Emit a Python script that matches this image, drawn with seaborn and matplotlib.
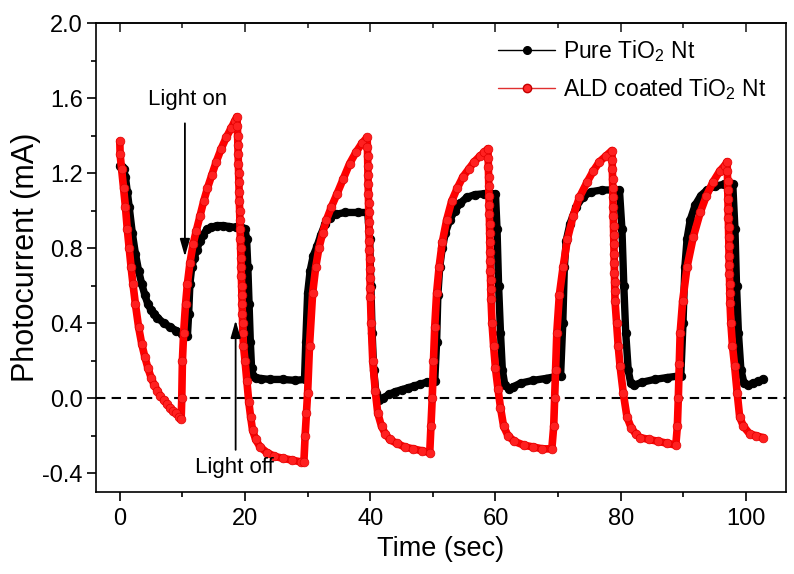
import matplotlib
matplotlib.use("Agg")
import matplotlib.pyplot as plt
import seaborn as sns
import pandas as pd
from matplotlib.lines import Line2D
from matplotlib.ticker import MultipleLocator, FormatStrFormatter

# ---------------- data ----------------
black_t = [0.0, 0.3, 0.6, 0.9, 1.2, 1.5, 2.0, 2.5, 3.0, 3.5, 4.0, 4.5, 5.0, 5.5, 6.0, 7.0, 8.0, 9.0, 10.0, 10.8,
           11.0, 11.2, 11.5, 11.9, 12.3, 12.8, 13.3, 13.9, 14.6, 15.5, 16.5, 17.5, 18.5, 19.5, 20.0,
           20.25, 20.45, 20.65, 20.85, 21.05, 21.3, 21.7, 22.5, 24.0, 26.0, 28.0, 29.5,
           29.7, 30.0, 30.4, 30.9, 31.5, 32.1, 32.8, 33.5, 34.5, 36.0, 38.0, 39.6,
           39.9, 40.1, 40.3, 40.55, 40.9, 41.4, 42.0, 43.0, 44.0, 45.0, 46.0, 47.0, 48.0, 49.0, 50.3,
           50.6, 50.8, 51.1, 51.5, 52.0, 52.7, 53.5, 54.4, 55.4, 56.7, 58.2, 60.0,
           60.25, 60.5, 60.8, 61.1, 61.5, 62.1, 62.8, 64.0, 66.0, 68.0, 70.4,
           70.75, 71.0, 71.3, 71.9, 72.9, 73.9, 75.2, 77.0, 79.8,
           80.2, 80.5, 80.8, 81.2, 81.6, 82.2, 83.4, 85.4, 87.4, 89.6,
           89.95, 90.25, 90.6, 91.1, 91.9, 92.8, 93.8, 95.0, 96.5, 97.9,
           98.25, 98.5, 98.8, 99.2, 99.7, 100.3, 101.2, 102.0, 102.7]
black_v = [1.24, 1.23, 1.22, 1.18, 1.10, 1.02, 0.88, 0.77, 0.68, 0.61, 0.55, 0.50, 0.47, 0.45, 0.43, 0.40, 0.38, 0.36, 0.34, 0.33,
           0.45, 0.61, 0.70, 0.75, 0.79, 0.84, 0.87, 0.90, 0.91, 0.92, 0.92, 0.915, 0.91, 0.905, 0.90,
           0.85, 0.70, 0.50, 0.30, 0.16, 0.12, 0.11, 0.105, 0.10, 0.10, 0.095, 0.10,
           0.30, 0.56, 0.68, 0.76, 0.81, 0.87, 0.93, 0.96, 0.98, 0.99, 0.99, 0.99,
           0.85, 0.60, 0.35, 0.15, 0.03, -0.01, 0.0, 0.02, 0.035, 0.045, 0.055, 0.065, 0.075, 0.085, 0.09,
           0.30, 0.55, 0.70, 0.80, 0.88, 0.95, 1.00, 1.04, 1.07, 1.085, 1.09, 1.09,
           0.90, 0.60, 0.35, 0.15, 0.07, 0.05, 0.06, 0.08, 0.095, 0.105, 0.12,
           0.40, 0.70, 0.84, 0.93, 1.02, 1.07, 1.10, 1.11, 1.11,
           0.90, 0.60, 0.35, 0.15, 0.08, 0.07, 0.085, 0.10, 0.11, 0.12,
           0.40, 0.70, 0.85, 0.95, 1.03, 1.08, 1.11, 1.13, 1.14, 1.14,
           0.90, 0.60, 0.35, 0.15, 0.08, 0.07, 0.08, 0.09, 0.10]

red_t = [0.0, 0.05, 0.3, 0.6, 0.9, 1.2, 1.5, 1.8, 2.1, 2.5, 3.0, 3.5, 4.0, 4.5, 5.0, 5.5, 6.0, 6.5, 7.0, 7.5, 8.0, 8.5, 9.0, 9.5, 9.8,
         9.9, 10.0, 10.2, 10.5, 10.8, 11.2, 11.7, 12.2, 12.8, 13.4, 14.0, 14.7, 15.4, 16.2, 17.0, 17.8, 18.4, 18.7,
         18.78, 18.82, 18.86, 18.90, 18.94, 18.98, 19.02, 19.06, 19.10, 19.14, 19.18, 19.22, 19.26, 19.30, 19.34, 19.38,
         19.42, 19.46, 19.50, 19.54, 19.58, 19.62, 19.66,
         19.75, 20.0, 20.3, 20.6, 20.9, 21.2, 21.7, 22.4, 23.5, 24.7, 26.0, 27.5, 29.0, 29.4,
         29.6, 29.8, 30.0, 30.3, 30.8, 31.3, 31.8, 32.4, 33.0, 33.8, 34.7, 35.7, 36.7, 37.7, 38.7, 39.5,
         39.55, 39.58, 39.61, 39.64, 39.67, 39.70, 39.73, 39.76, 39.79, 39.82, 39.85, 39.88, 39.91, 39.94, 39.97, 40.0, 40.03,
         40.15, 40.4, 40.8, 41.2, 41.8, 42.4, 43.1, 44.2, 45.5, 46.8, 48.2, 49.5,
         49.7, 49.9, 50.1, 50.3, 50.6, 51.0, 51.5, 52.2, 53.0, 53.9, 54.8, 55.7, 56.6, 57.5, 58.2, 58.8,
         58.84, 58.87, 58.90, 58.93, 58.96, 58.99, 59.02, 59.05, 59.08, 59.11, 59.14, 59.17, 59.20, 59.23, 59.26, 59.29,
         59.45, 59.7, 60.0, 60.4, 60.8, 61.3, 62.0, 63.0, 64.5, 66.0, 67.5, 69.0,
         69.3, 69.45, 69.6, 69.8, 70.2, 70.8, 71.5, 72.4, 73.4, 74.6, 75.6, 76.6, 77.6, 78.6,
         78.64, 78.67, 78.70, 78.73, 78.76, 78.79, 78.82, 78.85, 78.88, 78.91, 78.94, 78.97, 79.00, 79.03, 79.06, 79.09,
         79.35, 79.6, 79.9, 80.4, 81.0, 81.7, 82.4, 83.1, 84.5, 86.0, 87.4, 88.8,
         89.05, 89.2, 89.35, 89.5, 89.9, 90.6, 91.6, 92.7, 93.7, 94.7, 95.8, 96.6, 97.0,
         97.04, 97.07, 97.10, 97.13, 97.16, 97.19, 97.22, 97.25, 97.28, 97.31, 97.34, 97.37, 97.40, 97.43, 97.46,
         97.6, 97.85, 98.2, 98.6, 99.0, 99.6, 100.6, 101.6, 102.7]
red_v = [1.37, 1.30, 1.22, 1.12, 1.02, 0.90, 0.80, 0.70, 0.61, 0.50, 0.38, 0.29, 0.22, 0.16, 0.11, 0.07, 0.04, 0.01, -0.01, -0.03, -0.05, -0.07, -0.08, -0.10, -0.11,
         0.0, 0.2, 0.35, 0.50, 0.61, 0.72, 0.82, 0.89, 0.97, 1.05, 1.12, 1.19, 1.26, 1.33, 1.39, 1.44, 1.48, 1.50,
         1.45, 1.40, 1.35, 1.30, 1.25, 1.20, 1.15, 1.10, 1.05, 1.00, 0.95, 0.90, 0.85, 0.80, 0.75, 0.70,
         0.65, 0.60, 0.55, 0.50, 0.45, 0.40, 0.35,
         0.28, 0.20, 0.09, -0.02, -0.10, -0.17, -0.22, -0.26, -0.29, -0.31, -0.32, -0.33, -0.34, -0.34,
         -0.20, -0.08, 0.03, 0.28, 0.56, 0.70, 0.80, 0.88, 0.95, 1.02, 1.09, 1.17, 1.25, 1.31, 1.36, 1.39,
         1.34, 1.29, 1.24, 1.19, 1.14, 1.09, 1.04, 0.99, 0.94, 0.89, 0.84, 0.79, 0.74, 0.69, 0.64, 0.59, 0.54,
         0.40, 0.20, 0.04, -0.08, -0.15, -0.19, -0.22, -0.24, -0.26, -0.27, -0.28, -0.29,
         -0.15, 0.0, 0.20, 0.38, 0.56, 0.70, 0.83, 0.95, 1.05, 1.12, 1.18, 1.22, 1.26, 1.29, 1.31, 1.33,
         1.28, 1.23, 1.18, 1.13, 1.08, 1.03, 0.98, 0.93, 0.88, 0.83, 0.78, 0.73, 0.68, 0.63, 0.58, 0.53,
         0.40, 0.28, 0.16, 0.05, -0.05, -0.15, -0.20, -0.23, -0.25, -0.26, -0.27, -0.27,
         -0.15, 0.0, 0.15, 0.35, 0.55, 0.70, 0.85, 0.97, 1.07, 1.15, 1.21, 1.26, 1.29, 1.32,
         1.27, 1.22, 1.17, 1.12, 1.07, 1.02, 0.97, 0.92, 0.87, 0.82, 0.77, 0.72, 0.67, 0.62, 0.57, 0.52,
         0.40, 0.28, 0.17, 0.03, -0.10, -0.16, -0.19, -0.21, -0.22, -0.23, -0.24, -0.25,
         -0.15, 0.0, 0.18, 0.35, 0.52, 0.70, 0.86, 0.99, 1.08, 1.15, 1.21, 1.24, 1.26,
         1.21, 1.16, 1.11, 1.06, 1.01, 0.96, 0.91, 0.86, 0.81, 0.76, 0.71, 0.66, 0.61, 0.56, 0.51,
         0.40, 0.28, 0.17, 0.03, -0.10, -0.15, -0.19, -0.20, -0.21]

series_labels = ["Pure TiO$_2$ Nt", "ALD coated TiO$_2$ Nt"]
x_ticks = [0, 20, 40, 60, 80, 100]
y_ticks = [-0.4, 0.0, 0.4, 0.8, 1.2, 1.6, 2.0]

# ---------------- style ----------------
sns.set_style("ticks")
plt.rcParams["font.family"] = ["Liberation Sans", "DejaVu Sans"]
plt.rcParams["mathtext.default"] = "regular"
plt.rcParams["axes.unicode_minus"] = False
plt.rcParams["text.color"] = "black"
plt.rcParams["axes.labelcolor"] = "black"

fig = plt.figure(figsize=(7.94, 5.74), dpi=100)
ax = fig.add_axes([96 / 794, 82 / 574, 690 / 794, 469 / 574])

df_black = pd.DataFrame({"t": black_t, "v": black_v})
df_red = pd.DataFrame({"t": red_t, "v": red_v})

ax.axhline(0, color="black", lw=1.5, ls=(0, (4.5, 3)), zorder=1)

sns.lineplot(data=df_black, x="t", y="v", ax=ax, sort=False, estimator=None,
             color="black", linewidth=5.3, marker="o", markersize=6.0,
             markerfacecolor="black", markeredgecolor="black", zorder=2)
sns.lineplot(data=df_red, x="t", y="v", ax=ax, sort=False, estimator=None,
             color="#ff0000", linewidth=5.5, marker="o", markersize=6.3,
             markerfacecolor="#ff2020", markeredgecolor="#e00000", markeredgewidth=0.5,
             zorder=3)

# axes
ax.set_xlim(-3.8, 106.4)
ax.set_ylim(-0.5, 2.0)
ax.set_xticks(x_ticks)
ax.set_yticks(y_ticks)
ax.xaxis.set_minor_locator(MultipleLocator(10))
ax.yaxis.set_minor_locator(MultipleLocator(0.2))
ax.yaxis.set_major_formatter(FormatStrFormatter("%.1f"))
ax.tick_params(axis="both", which="major", direction="out", length=6.5, width=1.2,
               labelsize=17, color="black", labelcolor="black")
ax.tick_params(axis="both", which="minor", direction="out", length=3.5, width=1.2, color="black")
ax.tick_params(axis="x", which="major", pad=5)
ax.tick_params(axis="y", which="major", pad=3)
for s in ax.spines.values():
    s.set_visible(True)
    s.set_linewidth(1.2)
    s.set_color("black")

top = ax.secondary_xaxis("top")
top.set_xticks(x_ticks)
top.xaxis.set_minor_locator(MultipleLocator(10))
top.tick_params(axis="x", which="major", direction="in", length=6.5, width=1.2, labeltop=False)
top.tick_params(axis="x", which="minor", direction="in", length=3.5, width=1.2)
top.spines["top"].set_linewidth(1.2)

ax.set_xlabel("Time (sec)", fontsize=19.5, labelpad=4)
ax.set_ylabel("Photocurrent (mA)", fontsize=22, labelpad=1)

# annotations
ax.annotate("", xy=(10.4, 0.74), xytext=(10.4, 1.48),
            arrowprops=dict(arrowstyle="-|>,head_length=0.7,head_width=0.2",
                            color="black", lw=1.3, mutation_scale=15), zorder=5)
ax.text(10.9, 1.59, "Light on", ha="center", va="center", fontsize=16, zorder=5)
ax.annotate("", xy=(18.5, 0.43), xytext=(18.5, -0.29),
            arrowprops=dict(arrowstyle="-|>,head_length=0.7,head_width=0.2",
                            color="black", lw=1.3, mutation_scale=15), zorder=5)
ax.text(18.3, -0.37, "Light off", ha="center", va="center", fontsize=16, zorder=5)

# legend
handles = [
    Line2D([0], [0], color="black", lw=1.0, marker="o", markersize=5.5,
           markerfacecolor="black", markeredgecolor="black"),
    Line2D([0], [0], color="#e03030", lw=1.0, marker="o", markersize=6,
           markerfacecolor="#ff2a2a", markeredgecolor="#c40000"),
]
fig.legend(handles, series_labels, loc="upper left",
           bbox_to_anchor=(498 / 794, 1 - 38 / 574), frameon=False,
           fontsize=16.5, handlelength=2.5, handletextpad=0.35,
           labelspacing=0.55, borderpad=0, borderaxespad=0)

fig.savefig("out.png", dpi=100)
